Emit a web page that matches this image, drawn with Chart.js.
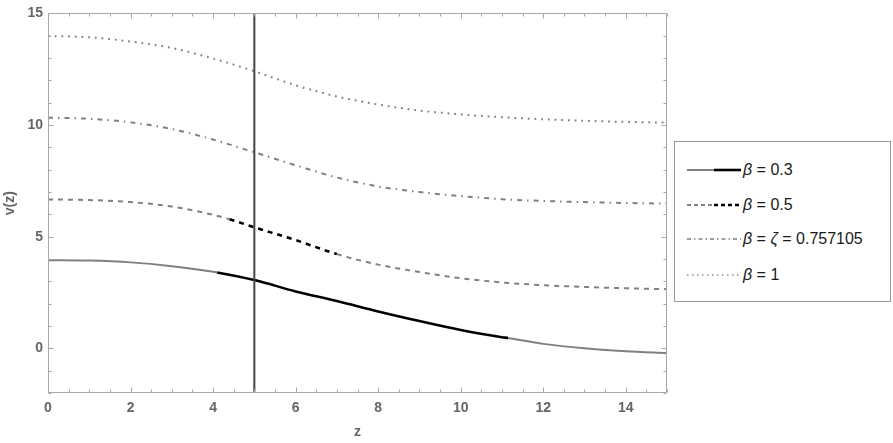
<!DOCTYPE html>
<html><head><meta charset="utf-8">
<script src="https://cdn.jsdelivr.net/npm/chart.js@4"></script>
<style>
html,body{margin:0;padding:0;background:#fff;}
#wrap{position:relative;width:893px;height:443px;}
#legend{position:absolute;left:674px;top:141px;width:217px;height:161px;border:1px solid #9a9a9a;box-sizing:border-box;background:#fff;font-family:"Liberation Sans",Arial,sans-serif;font-size:16px;color:#1a1a1a;}
.item{position:absolute;left:12px;height:20px;display:flex;align-items:center;white-space:nowrap;}
.item svg{width:54px;height:8px;margin-right:2px;}
</style></head>
<body>
<div id="wrap">
<canvas id="c" width="893" height="443"></canvas>
<div id="legend">
  <div class="item" style="top:18px"><svg viewBox="0 0 54 8"><line x1="0" y1="4" x2="27" y2="4" stroke="#808080" stroke-width="2"/><line x1="27" y1="4" x2="54" y2="4" stroke="#000" stroke-width="2.6"/></svg><span><i>β</i> = 0.3</span></div>
  <div class="item" style="top:53px"><svg viewBox="0 0 54 8"><line x1="0" y1="4" x2="27" y2="4" stroke="#808080" stroke-width="2" stroke-dasharray="4,3"/><line x1="27" y1="4" x2="54" y2="4" stroke="#000" stroke-width="2.6" stroke-dasharray="4,3"/></svg><span><i>β</i> = 0.5</span></div>
  <div class="item" style="top:87px"><svg viewBox="0 0 54 8"><line x1="0" y1="4" x2="54" y2="4" stroke="#808080" stroke-width="1.6" stroke-dasharray="4,3,1.5,3"/></svg><span><i>β</i> = <i>ζ</i> = 0.757105</span></div>
  <div class="item" style="top:123px"><svg viewBox="0 0 54 8"><line x1="0" y1="4" x2="54" y2="4" stroke="#909090" stroke-width="1.5" stroke-dasharray="1.5,3.5"/></svg><span><i>β</i> = 1</span></div>
</div>
</div>
<script>
// ---- data ----
const zB03 = [0,1,2,3,4,4.1,5,6,7,8,9,10,11,11.15,12,13,14,15];
const vB03 = [3.95,3.93,3.85,3.68,3.43,3.40,3.06,2.55,2.12,1.65,1.22,0.82,0.50,0.46,0.20,0.0,-0.13,-0.22];
const blackB03 = [4.1, 11.15];

const zB05 = [0,1,2,3,4,4.4,5,6,7,8,9,10,11,12,13,14,15];
const vB05 = [6.67,6.64,6.55,6.35,5.98,5.78,5.42,4.85,4.22,3.75,3.42,3.14,2.95,2.83,2.75,2.69,2.65];
const blackB05 = [4.4, 7.0];

const zZeta = [0,1,2,3,4,5,6,7,8,9,10,11,12,13,14,15];
const vZeta = [10.33,10.28,10.12,9.82,9.35,8.78,8.20,7.65,7.25,7.00,6.82,6.68,6.60,6.55,6.51,6.48];

const zB1 = [0,1,2,3,4,5,6,7,8,9,10,11,12,13,14,15];
const vB1 = [13.99,13.93,13.74,13.45,12.98,12.41,11.78,11.28,10.92,10.65,10.48,10.35,10.26,10.19,10.14,10.11];

const zMark = 5;
const xTicks = [0,2,4,6,8,10,12,14];
const yTicks = [0,5,10,15];
const xRange = [0,15];
const yRange = [-2,15];

// ---- build ----
const pts = (zs, vs) => zs.map((z,i)=>({x:z,y:vs[i]}));
const GRAY = '#808080', BLACK = '#000000';
const inBlack = (ctx, range) => ctx.p0.parsed.x >= range[0]-1e-9 && ctx.p1.parsed.x <= range[1]+1e-9;
const segStyle = (range) => ({
  borderColor: (ctx) => inBlack(ctx, range) ? BLACK : GRAY,
  borderWidth: (ctx) => inBlack(ctx, range) ? 2.6 : 2
});

const framePlugin = {
  id:'frame',
  afterDatasetsDraw(chart){
    const {ctx, chartArea:a, scales:{x,y}} = chart;
    ctx.save();
    ctx.strokeStyle = '#a8a8a8';
    ctx.lineWidth = 1;
    const L = Math.round(a.left)+0.5, R = Math.round(a.right)-0.5, T = Math.round(a.top)+0.5, B = Math.round(a.bottom)-0.5;
    ctx.beginPath();
    ctx.rect(L, T, R-L, B-T);
    ctx.stroke();
    ctx.beginPath();
    for (let v = xRange[0]; v <= xRange[1]+1e-9; v += 0.5) {
      const px = Math.round(x.getPixelForValue(v))+0.5;
      const len = xTicks.includes(v) ? 5 : 3;
      ctx.moveTo(px, B); ctx.lineTo(px, B-len);
      ctx.moveTo(px, T); ctx.lineTo(px, T+len);
    }
    for (let v = yRange[0]; v <= yRange[1]+1e-9; v += 1) {
      const py = Math.round(y.getPixelForValue(v))+0.5;
      const len = yTicks.includes(v) ? 5 : 3;
      ctx.moveTo(L, py); ctx.lineTo(L+len, py);
      ctx.moveTo(R, py); ctx.lineTo(R-len, py);
    }
    ctx.stroke();
    ctx.restore();
  }
};

const tickFont = {family:'"Liberation Sans", Arial, sans-serif', size:14, weight:'bold'};

new Chart(document.getElementById('c'), {
  type:'line',
  data:{
    datasets:[
      {label:'mark', data:[{x:zMark,y:yRange[0]},{x:zMark,y:yRange[1]}], borderColor:'#444444', borderWidth:2, pointRadius:0, order:0},
      {label:'β = 0.3', data:pts(zB03,vB03), borderColor:GRAY, borderWidth:2, pointRadius:0, cubicInterpolationMode:'monotone',
        segment:segStyle(blackB03), order:1},
      {label:'β = 0.5', data:pts(zB05,vB05), borderColor:GRAY, borderWidth:2, pointRadius:0, cubicInterpolationMode:'monotone',
        borderDash:[5,5], segment:segStyle(blackB05), order:2},
      {label:'β = ζ = 0.757105', data:pts(zZeta,vZeta), borderColor:GRAY, borderWidth:2, pointRadius:0, cubicInterpolationMode:'monotone',
        borderDash:[5,5,1.5,5], order:3},
      {label:'β = 1', data:pts(zB1,vB1), borderColor:GRAY, borderWidth:2, pointRadius:0, cubicInterpolationMode:'monotone',
        borderDash:[1.8,4.9], order:4}
    ]
  },
  options:{
    responsive:false, animation:false,
    layout:{padding:{left:0, top:12, right:226, bottom:0}},
    plugins:{legend:{display:false}, tooltip:{enabled:false}},
    scales:{
      x:{type:'linear', min:xRange[0], max:xRange[1],
        afterBuildTicks:(s)=>{s.ticks = xTicks.map(v=>({value:v}));},
        afterFit:(s)=>{s.height = 50;},
        grid:{display:false, drawTicks:false}, border:{display:false},
        ticks:{font:tickFont, color:'#666666', padding:7, maxRotation:0},
        title:{display:true, text:'z', font:tickFont, color:'#666666', padding:{bottom:2, top:0}}
      },
      y:{type:'linear', min:yRange[0], max:yRange[1],
        afterBuildTicks:(s)=>{s.ticks = yTicks.map(v=>({value:v}));},
        afterFit:(s)=>{s.width = 48;},
        grid:{display:false, drawTicks:false}, border:{display:false},
        ticks:{font:tickFont, color:'#666666', padding:5},
        title:{display:true, text:'v(z)', font:tickFont, color:'#666666', padding:{top:2, bottom:0}}
      }
    }
  },
  plugins:[framePlugin]
});
</script>
</body></html>
